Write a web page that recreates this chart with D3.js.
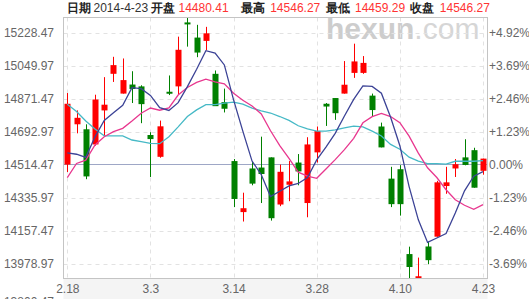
<!doctype html>
<head>
  <meta charset="utf-8">
  <script src="https://cdnjs.cloudflare.com/ajax/libs/d3/7.8.2/d3.min.js"></script>
</head>
<style>
  body { margin: 0; background: #fff; }
  svg { display: block; }
  text { font-family: "Liberation Sans", Arial, sans-serif; }
</style>
<body>
  <div id="chart"></div>
  <script>
    // Datos diarios (Nikkei 225, 2014-2-18 .. 2014-4-23)
    const dates = ["2.18","2.19","2.20","2.21","2.24","2.25","2.26","2.27","2.28",
      "3.3","3.4","3.5","3.6","3.7","3.10","3.11","3.12","3.13","3.14",
      "3.17","3.18","3.19","3.20","3.24","3.25","3.26","3.27","3.28","3.31",
      "4.1","4.2","4.3","4.4","4.7","4.8","4.9","4.10","4.11",
      "4.14","4.15","4.16","4.17","4.18","4.21","4.22","4.23"];
    const open = [14514,14732,14705,14623,14807,15005,14898,14947,14937,
      14674,14556,14908,14937,15283,15201,15183,15005,14852,14533,
      14257,14493,14498,14553,14298,14405,14525,14306,14580,14843,
      14874,14898,15010,15010,14887,14720,14438,14489,14030,
      13860,14071,14124,14398,14493,14553,14592,14480.41];
    const high = [14901,14807,14732,14892,14987,15097,15088,15019,14943,
      14689,14752,14996,15206,15313,15270,15259,15023,14925,14544,
      14362,14533,14665,14553,14514,14533,14571,14662,14720,14847,
      14874,15074,15168,15101,14898,14741,14502,14511,14070,
      14011,14097,14426,14502,14544,14651,14605,14546.27];
    const low = [14474,14683,14435,14616,14665,14961,14898,14847,14738,
      14447,14551,14890,14892,15152,15095,15132,14834,14796,14284,
      14206,14402,14306,14211,14289,14316,14402,14229,14525,14723,
      14756,14898,14983,15005,14774,14607,14284,14238,13885,
      13830,13975,14124,14356,14447,14510,14389,14459.29];
    const close = [14843,14767,14450,14866,14838,15052,14971,14923,14841,
      14652,14721,14898,15135,15274,15120,15224,14830,14816,14328,
      14278,14411,14463,14224,14475,14423,14477,14623,14696,14828,
      14792,14946,15072,15064,14809,14607,14300,14300,13960,
      13910,13997,14418,14418,14516,14512,14389,14546.27];
    const ma5 = [14577,14570,14553,14664,14753,14795,14835,14930,14925,
      14888,14822,14807,14849,14936,15030,15130,15117,15053,14864,
      14695,14533,14459,14341,14370,14399,14412,14444,14539,14609,
      14683,14777,14867,14940,14937,14900,14770,14616,14395,
      14215,14093,14117,14141,14252,14372,14451,14476];
    const ma10 = [14444,14520,14538,14620,14665,14692,14710,14750,14792,
      14820,14808,14821,14890,14931,14959,14976,14962,14951,14900,
      14862,14831,14788,14697,14617,14547,14473,14452,14440,14490,
      14541,14595,14656,14740,14773,14791,14774,14741,14668,
      14576,14497,14444,14378,14324,14294,14272,14297];
    const ma20 = [14840,14801,14750,14707,14670,14669,14669,14647,14638,
      14629,14627,14665,14718,14774,14810,14838,14838,14847,14852,
      14841,14820,14805,14793,14774,14753,14724,14707,14695,14695,
      14702,14713,14722,14718,14695,14669,14623,14597,14554,
      14533,14519,14519,14517,14532,14533,14532,14535];

    const xTickLabels = ["2.18","3.3","3.14","3.28","4.10","4.23"];
    const yTickValues = [13800.47,13978.97,14157.47,14335.97,14514.47,14692.97,14871.47,15049.97,15228.47];
    const pctTickValues = [13978.97,14157.47,14335.97,14514.47,14692.97,14871.47,15049.97,15228.47];
    const pctLabels = ["-3.69%","-2.46%","-1.23%","0.00%","+1.23%","+2.46%","+3.69%","+4.92%"];
    const baseValue = 14514.47;

    const headerLabels = ["日期","开盘","最高","最低","收盘"];
    const headerValues = ["2014-4-23","14480.41","14546.27","14459.29","14546.27"];

    const width = 529, height = 299;
    const plot = { left: 63.5, right: 487.5, top: 17.5, bottom: 278.5 };

    const svg = d3.select("#chart").append("svg")
      .attr("width", width)
      .attr("height", height);

    const x = d3.scalePoint().domain(dates).range([67.3, 483]);
    const y = d3.scaleLinear().domain([13978.97, 15228.47]).range([263.5, 32.5]);

    // Banda inferior del eje X
    svg.append("rect")
      .attr("x", plot.left).attr("y", plot.bottom)
      .attr("width", plot.right - plot.left).attr("height", height - plot.bottom)
      .attr("fill", "#f4f4f4");

    // Marca de agua
    const wm = svg.append("text")
      .attr("x", 326).attr("y", 39)
      .attr("font-size", 30);
    wm.append("tspan").attr("font-weight", "bold").attr("fill", "#cdcdcd").text("hexun");
    wm.append("tspan").attr("fill", "#d6d6d6").text(".com");

    // Rejilla horizontal
    svg.append("g").selectAll("line")
      .data(pctTickValues.filter(d => d !== baseValue))
      .join("line")
      .attr("x1", plot.left).attr("x2", plot.right)
      .attr("y1", d => Math.round(y(d)) + 0.5).attr("y2", d => Math.round(y(d)) + 0.5)
      .attr("stroke", "#e2e2e2")
      .attr("stroke-dasharray", "4,4");

    // Rejilla vertical
    svg.append("g").selectAll("line")
      .data(xTickLabels)
      .join("line")
      .attr("x1", d => Math.round(x(d)) + 0.5).attr("x2", d => Math.round(x(d)) + 0.5)
      .attr("y1", plot.top).attr("y2", plot.bottom)
      .attr("stroke", "#e2e2e2")
      .attr("stroke-dasharray", "4,4");

    // Línea base (0.00%)
    svg.append("line")
      .attr("x1", plot.left).attr("x2", plot.right)
      .attr("y1", Math.round(y(baseValue)) + 0.5).attr("y2", Math.round(y(baseValue)) + 0.5)
      .attr("stroke", "#9ea7c6")
      .attr("stroke-width", 1.2);

    // Clip del área de dibujo
    svg.append("clipPath").attr("id", "clip")
      .append("rect")
      .attr("x", plot.left).attr("y", plot.top)
      .attr("width", plot.right - plot.left).attr("height", plot.bottom - plot.top);

    const g = svg.append("g").attr("clip-path", "url(#clip)");

    const candles = dates.map((d, i) => ({
      date: d, o: open[i], h: high[i], l: low[i], c: close[i]
    }));
    const colorOf = d => d.c >= d.o ? "#ff0000" : "#008000";
    const bodyW = 6;

    g.selectAll(".wick")
      .data(candles)
      .join("line")
      .attr("class", "wick")
      .attr("x1", d => Math.round(x(d.date)) + 0.5).attr("x2", d => Math.round(x(d.date)) + 0.5)
      .attr("y1", d => y(d.h)).attr("y2", d => y(d.l))
      .attr("stroke", colorOf);

    g.selectAll(".body")
      .data(candles)
      .join("rect")
      .attr("class", "body")
      .attr("x", d => Math.round(x(d.date)) + 0.5 - bodyW / 2)
      .attr("y", d => y(Math.max(d.o, d.c)))
      .attr("width", bodyW)
      .attr("height", d => Math.max(2, y(Math.min(d.o, d.c)) - y(Math.max(d.o, d.c))))
      .attr("fill", colorOf);

    // Medias móviles
    const series = [
      { values: ma20, color: "#46b9c6" },
      { values: ma10, color: "#e8388f" },
      { values: ma5, color: "#3c4396" },
    ];
    const line = d3.line()
      .x((d, i) => x(dates[i]))
      .y(d => y(d));
    g.selectAll(".ma")
      .data(series)
      .join("path")
      .attr("class", "ma")
      .attr("d", d => line(d.values))
      .attr("fill", "none")
      .attr("stroke", d => d.color)
      .attr("stroke-width", 1.3);

    // Borde del área de dibujo
    svg.append("rect")
      .attr("x", plot.left).attr("y", plot.top)
      .attr("width", plot.right - plot.left).attr("height", plot.bottom - plot.top)
      .attr("fill", "none")
      .attr("stroke", "#c4c4c4");

    // Ejes
    const axisLeft = d3.axisLeft(y)
      .tickValues(yTickValues)
      .tickFormat(d => d.toFixed(2))
      .tickSize(0)
      .tickPadding(9.5);
    const gl = svg.append("g")
      .attr("transform", `translate(${plot.left},0)`)
      .call(axisLeft);
    // la última etiqueta queda cortada por el borde inferior
    gl.selectAll(".tick").filter(d => d === yTickValues[0])
      .select("text").attr("dy", "0.75em");

    const axisRight = d3.axisRight(y)
      .tickValues(pctTickValues)
      .tickFormat((d, i) => pctLabels[i])
      .tickSize(0)
      .tickPadding(1.5);
    const gr = svg.append("g")
      .attr("transform", `translate(${plot.right},0)`)
      .call(axisRight);

    const axisBottom = d3.axisBottom(x)
      .tickValues(xTickLabels)
      .tickSize(0)
      .tickPadding(6);
    const gb = svg.append("g")
      .attr("transform", `translate(0,${plot.bottom})`)
      .call(axisBottom);

    [gl, gr, gb].forEach(a => {
      a.select(".domain").remove();
      a.selectAll("text")
        .attr("font-size", 12)
        .attr("font-family", "Liberation Sans, Arial, sans-serif")
        .attr("fill", "#666");
    });

    // Cabecera
    const labelX = [66.5, 151, 240.8, 325.6, 410.4];
    const valueX = [93.5, 178.5, 270.2, 355, 439.8];
    const header = svg.append("g");
    header.selectAll(".hlab")
      .data(headerLabels)
      .join("text")
      .attr("class", "hlab")
      .attr("x", (d, i) => labelX[i]).attr("y", 12)
      .attr("font-size", 12)
      .attr("font-family", "Noto Sans CJK SC, sans-serif")
      .attr("font-weight", "bold")
      .attr("fill", "#222")
      .text(d => d);
    header.selectAll(".hval")
      .data(headerValues)
      .join("text")
      .attr("class", "hval")
      .attr("x", (d, i) => valueX[i]).attr("y", 12)
      .attr("font-size", 12)
      .attr("fill", (d, i) => i === 0 ? "#333" : "#ff3333")
      .text(d => d);
  </script>
</body>
